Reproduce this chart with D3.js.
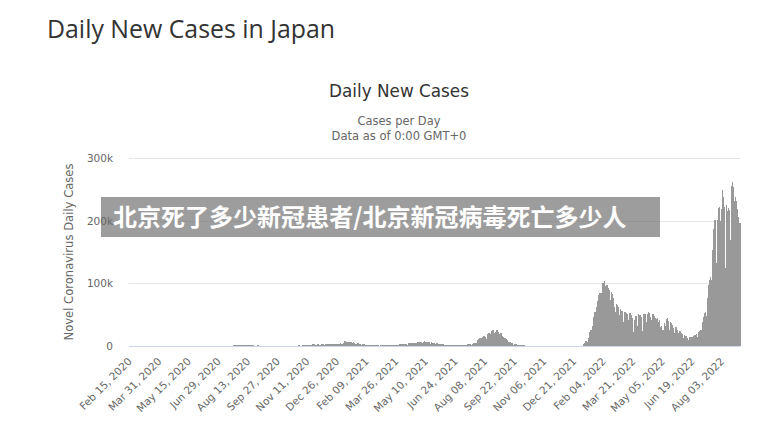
<!DOCTYPE html>
<html><head><meta charset="utf-8">
<script src="https://cdn.jsdelivr.net/npm/d3@7"></script>
<style>
html,body{margin:0;padding:0;background:#fff;}
svg{display:block;}
</style></head>
<body>
<svg id="chart" width="763" height="436"></svg>
<script>
// Daily new cases, in thousands, one value per day starting Feb 15, 2020
const cases2020 = [
 0.01,0.01,0.01,0.01,0.01,0.01,0.01,0.01,0.01,0.01,0.01,0.01,0.02,0.02,0.01,
 0.02,0.01,0.02,0.03,0.03,0.05,0.06,0.04,0.03,0.05,0.05,0.05,0.04,0.06,0.02,0.01,0.04,0.04,0.04,0.06,0.05,0.04,0.04,0.06,0.1,0.1,0.12,0.2,0.17,0.09,0.2,
 0.27,0.23,0.35,0.36,0.38,0.26,0.27,0.5,0.57,0.67,0.74,0.5,0.4,0.45,0.55,0.58,0.6,0.5,0.37,0.36,0.35,0.43,0.44,0.44,0.34,0.2,0.25,0.3,0.3,0.2,
 0.16,0.26,0.3,0.2,0.13,0.1,0.1,0.09,0.08,0.08,0.08,0.1,0.05,0.05,0.05,0.04,0.03,0.03,0.03,0.04,0.02,0.03,0.03,0.02,0.02,0.02,0.03,0.03,0.03,0.05,0.03,
 0.03,0.04,0.05,0.05,0.05,0.05,0.04,0.04,0.04,0.04,0.04,0.05,0.05,0.05,0.07,0.04,0.04,0.06,0.05,0.06,0.06,0.06,0.06,0.1,0.1,0.1,0.1,0.1,0.1,0.12,
 0.13,0.17,0.25,0.27,0.2,0.16,0.23,0.25,0.4,0.45,0.4,0.3,0.3,0.4,0.45,0.6,0.6,0.65,0.5,0.45,0.6,0.8,0.9,0.8,0.8,0.6,0.9,1.0,1.2,1.3,1.6,
 1.5,1.3,1.0,1.2,1.4,1.5,1.6,1.4,1.2,0.8,0.7,1.0,1.2,1.1,1.0,0.8,0.6,0.8,1.0,0.9,0.8,0.7,0.6,0.5,0.6,0.7,0.7,0.8,0.7,0.6,0.5,
 0.6,0.5,0.6,0.6,0.5,0.5,0.4,0.5,0.5,0.6,0.6,0.6,0.5,0.4,0.5,0.5,0.6,0.6,0.5,0.4,0.3,0.3,0.5,0.6,0.6,0.6,0.5,0.3,0.5,0.6,
 0.6,0.6,0.6,0.5,0.4,0.5,0.6,0.7,0.6,0.6,0.5,0.3,0.6,0.6,0.7,0.6,0.6,0.5,0.3,0.6,0.6,0.7,0.7,0.7,0.5,0.4,0.6,0.7,0.8,0.8,0.7,
 0.6,0.5,0.8,1.0,1.0,1.1,1.3,1.0,0.9,1.3,1.5,1.7,1.7,1.7,1.4,1.0,1.7,2.2,2.4,2.4,2.5,2.2,1.5,1.2,1.9,2.5,2.5,2.7,2.1,1.5,
 2.0,2.4,2.5,2.4,2.5,2.4,2.0,2.0,2.8,2.9,3.0,3.0,2.4,1.7,2.4,3.0,3.2,2.8,2.9,2.5,1.8,2.8,3.3,3.7,3.8,3.9,2.9,2.4,3.6,3.9,4.5
];
const cases2021 = [
 3.2,3.1,3.2,3.3,4.9,6.0,7.6,7.9,7.1,6.1,4.9,4.5,5.9,6.6,6.6,7.0,5.7,4.9,5.3,5.7,5.4,4.7,3.9,3.9,2.8,3.9,4.0,4.1,3.5,3.3,2.7,
 1.8,2.3,2.6,2.6,2.4,2.3,1.6,1.2,1.6,1.7,1.6,1.4,1.4,1.0,0.9,1.3,1.5,1.4,1.2,1.1,1.0,0.9,0.6,1.0,1.0,1.0,1.0,0.7,
 0.7,0.9,1.2,1.1,1.1,1.1,1.1,0.6,1.1,1.3,1.3,1.3,1.3,1.1,0.8,1.3,1.5,1.5,1.5,1.5,1.1,0.8,1.5,1.9,1.9,2.0,2.0,1.8,1.2,2.0,2.8,
 2.6,2.8,2.8,2.5,1.6,2.6,3.4,3.4,3.5,3.7,2.8,2.1,3.4,4.3,4.6,4.5,4.8,4.1,2.9,4.3,5.3,5.5,5.1,5.1,4.6,3.3,4.9,5.8,4.0,4.7,
 5.9,5.9,5.9,4.3,4.3,4.5,6.0,7.2,6.4,4.9,6.2,7.0,6.9,6.3,6.4,5.2,3.7,4.8,5.7,5.5,4.6,4.4,4.1,2.8,3.8,4.5,4.1,3.5,3.4,2.5,1.7,
 2.6,3.0,2.8,2.6,2.6,2.0,1.3,2.2,2.3,1.9,1.9,1.9,1.4,0.9,1.4,1.7,1.6,1.6,1.6,1.3,0.9,1.4,1.8,1.7,1.6,1.6,1.3,0.9,1.5,1.8,
 1.8,1.8,1.7,1.4,1.0,1.9,2.2,2.3,2.2,2.0,1.5,1.5,2.4,3.2,3.4,3.1,3.1,2.3,1.6,3.3,4.9,5.4,4.2,3.9,4.7,4.7,7.6,9.6,10.7,10.8,12.3,
 10.2,8.4,12.0,14.2,15.3,15.3,15.8,14.5,12.1,10.4,15.8,18.9,20.4,20.2,17.6,14.4,19.8,23.9,25.1,25.8,25.5,21.0,15.8,21.6,24.3,24.9,22.7,22.0,19.3,16.0,20.0,
 20.0,16.7,16.5,15.0,12.8,8.2,12.1,12.4,10.4,9.0,7.2,6.0,4.2,5.8,6.1,5.6,4.7,4.5,3.6,2.2,1.8,2.4,3.2,2.6,2.4,2.0,1.1,1.9,1.6,1.6,
 1.4,1.2,0.9,0.6,0.9,0.8,0.8,0.7,0.6,0.4,0.4,0.6,0.6,0.6,0.5,0.5,0.4,0.2,0.4,0.4,0.3,0.3,0.3,0.3,0.2,0.3,0.3,0.3,0.3,0.2,0.2,
 0.1,0.1,0.2,0.2,0.2,0.2,0.2,0.1,0.2,0.2,0.2,0.2,0.2,0.1,0.1,0.1,0.1,0.2,0.2,0.1,0.1,0.1,0.1,0.1,0.1,0.1,0.1,0.1,0.1,0.1,
 0.1,0.1,0.1,0.1,0.1,0.1,0.1,0.1,0.2,0.1,0.1,0.1,0.1,0.2,0.2,0.2,0.2,0.2,0.2,0.1,0.2,0.3,0.3,0.3,0.4,0.3,0.3,0.4,0.5,0.5,0.5
];
const cases2022 = [
 0.5,0.5,0.6,1.3,2.6,4.5,6.2,8.5,8.4,6.4,3.0,13.2,18.9,22.0,25.8,25.6,20.0,32.0,41.5,46.2,49.9,54.6,50.6,39.4,62.6,71.6,78.9,81.9,84.9,84.0,60.5,
 84.7,94.9,100.3,100.1,104.1,96.2,76.8,83.5,97.3,93.3,92.2,89.5,88.8,73.2,70.4,86.8,82.6,76.0,68.0,62.1,53.7,52.6,53.8,66.7,65.6,62.3,58.6,50.0,
 58.4,56.9,55.6,55.3,50.7,38.2,37.2,53.5,54.2,51.7,52.0,50.9,41.7,33.4,50.5,52.5,51.6,49.3,45.3,35.5,22.0,20.2,42.0,46.1,47.3,45.4,32.1,29.5,50.9,49.3,49.1,
 48.8,46.7,31.1,23.8,49.7,51.7,50.5,51.6,47.1,38.6,25.4,50.5,55.0,52.6,48.7,46.2,40.7,23.2,47.3,50.8,49.6,47.3,44.0,34.5,23.2,43.4,44.3,38.3,31.4,40.9,
 31.1,20.7,31.6,23.2,25.9,22.7,37.5,32.7,21.7,42.1,43.6,44.6,39.3,35.9,25.9,17.1,38.4,36.4,33.0,31.6,29.4,20.4,14.7,30.8,29.9,26.0,24.8,21.3,16.9,13.8,24.6,
 23.3,20.1,18.7,17.5,12.7,9.8,17.1,16.0,15.3,14.0,13.1,9.9,7.2,14.9,14.8,13.5,13.5,13.8,11.0,8.2,16.0,17.1,16.3,17.7,18.4,13.7,10.9,23.0,23.4,23.1,
 23.1,25.7,22.3,18.5,38.0,45.8,47.9,51.9,54.1,47.2,36.1,76.0,94.4,97.8,105.0,110.7,106.0,71.2,74.5,152.5,186.2,195.1,200.9,190.4,126.4,133.0,200.6,209.7,220.4,221.6,200.0,
 141.0,218.4,249.7,238.9,238.1,222.4,201.5,124.9,204.8,224.8,214.8,181.9,220.9,216.5,129.9,169.3,254.2,255.5,261.0,253.2,231.9,146.9,238.3,231.2,227.3,218.4,205.2,180.9,190.0,196.0
];
const xTickLabels = ["Feb 15, 2020","Mar 31, 2020","May 15, 2020","Jun 29, 2020","Aug 13, 2020","Sep 27, 2020","Nov 11, 2020","Dec 26, 2020","Feb 09, 2021","Mar 26, 2021","May 10, 2021","Jun 24, 2021","Aug 08, 2021","Sep 22, 2021","Nov 06, 2021","Dec 21, 2021","Feb 04, 2022","Mar 21, 2022","May 05, 2022","Jun 19, 2022","Aug 03, 2022"];
const yTickValues = [0, 100000, 200000, 300000];
const yTickLabels = ["0", "100k", "200k", "300k"];
const pageTitle = "Daily New Cases in Japan";
const chartTitle = "Daily New Cases";
const subtitleLines = ["Cases per Day", "Data as of 0:00 GMT+0"];
const yAxisTitle = "Novel Coronavirus Daily Cases";
const bannerText = "北京死了多少新冠患者/北京新冠病毒死亡多少人";

const values = cases2020.concat(cases2021, cases2022).map(v => v * 1000);
const idx = values.map((v, i) => i);
const tickEvery = 45;

const svg = d3.select("#chart");
const plot = {left: 129, right: 740, top: 158, bottom: 346};

const x = d3.scaleBand().domain(idx).range([plot.left, plot.right]).padding(0);
const y = d3.scaleLinear().domain([0, 300000]).range([plot.bottom, plot.top]);

function fit(sel, target) {
  const n = sel.node();
  const fs = parseFloat(sel.attr("font-size"));
  const w = n.getComputedTextLength();
  if (w > 0) sel.attr("font-size", (fs * target / w).toFixed(2));
}

// page title
fit(svg.append("text").attr("x", 47).attr("y", 38).attr("font-family", "'Open Sans', 'Noto Sans', sans-serif")
  .attr("font-size", 24).attr("fill", "#333").text(pageTitle), 288);

// chart title and subtitle
fit(svg.append("text").attr("x", 399).attr("y", 97).attr("text-anchor", "middle")
  .attr("font-family", "'DejaVu Sans', sans-serif").attr("font-size", 17).attr("fill", "#333").text(chartTitle), 140);
fit(svg.append("text").attr("x", 399).attr("y", 125).attr("text-anchor", "middle")
  .attr("font-family", "'DejaVu Sans', sans-serif").attr("font-size", 11).attr("fill", "#666").text(subtitleLines[0]), 83);
fit(svg.append("text").attr("x", 399).attr("y", 139.5).attr("text-anchor", "middle")
  .attr("font-family", "'DejaVu Sans', sans-serif").attr("font-size", 11).attr("fill", "#666").text(subtitleLines[1]), 135);

// gridlines + y axis labels
const yAxis = d3.axisLeft(y).tickValues(yTickValues)
  .tickFormat((d, i) => yTickLabels[i])
  .tickSize(0).tickPadding(16);
const gy = svg.append("g").attr("transform", `translate(${plot.left},0)`).call(yAxis);
gy.select(".domain").remove();
gy.selectAll("text").attr("font-family", "'DejaVu Sans', sans-serif").attr("font-size", 10.5).attr("fill", "#666");
svg.append("g").selectAll("line").data(yTickValues.filter(v => v > 0)).join("line")
  .attr("x1", plot.left).attr("x2", plot.right)
  .attr("y1", d => Math.round(y(d)) + 0.5).attr("y2", d => Math.round(y(d)) + 0.5)
  .attr("stroke", "#e6e6e6").attr("stroke-width", 1);

// y axis title
const yt = svg.append("text").attr("transform", `translate(73,${(plot.top + plot.bottom) / 2}) rotate(-90)`)
  .attr("text-anchor", "middle").attr("font-family", "'DejaVu Sans', sans-serif")
  .attr("font-size", 11).attr("fill", "#666").text(yAxisTitle);
fit(yt, 177);

// bars
svg.append("g").attr("shape-rendering", "crispEdges").selectAll("rect").data(values).join("rect")
  .attr("x", (d, i) => x(i))
  .attr("width", x.bandwidth() + 0.6)
  .attr("y", d => y(d))
  .attr("height", d => plot.bottom - y(d))
  .attr("fill", "#999");

// x axis
const xAxis = d3.axisBottom(x)
  .tickValues(idx.filter(i => i % tickEvery === 0))
  .tickFormat(i => xTickLabels[i / tickEvery])
  .tickSize(0);
const gx = svg.append("g").attr("transform", `translate(0,${plot.bottom})`).call(xAxis);
gx.select(".domain").attr("stroke", "#ccd6eb").attr("d", `M${plot.left},0.5H${plot.right}`);
gx.selectAll(".tick text")
  .attr("font-family", "'DejaVu Sans', sans-serif").attr("font-size", 10.5).attr("fill", "#666")
  .attr("text-anchor", "end").attr("y", 0).attr("dy", 0)
  .attr("transform", "translate(3,16) rotate(-45)");

// banner overlay
svg.append("rect").attr("x", 101).attr("y", 197).attr("width", 559).attr("height", 40)
  .attr("fill", "#6a6a6a").attr("fill-opacity", 0.66);
const bt = svg.append("text").attr("x", 113).attr("y", 225.5)
  .attr("font-family", "'Noto Sans CJK SC', sans-serif").attr("font-weight", "bold")
  .attr("font-size", 24).attr("fill", "#fff").text(bannerText);
fit(bt, 514);
</script>
</body></html>
